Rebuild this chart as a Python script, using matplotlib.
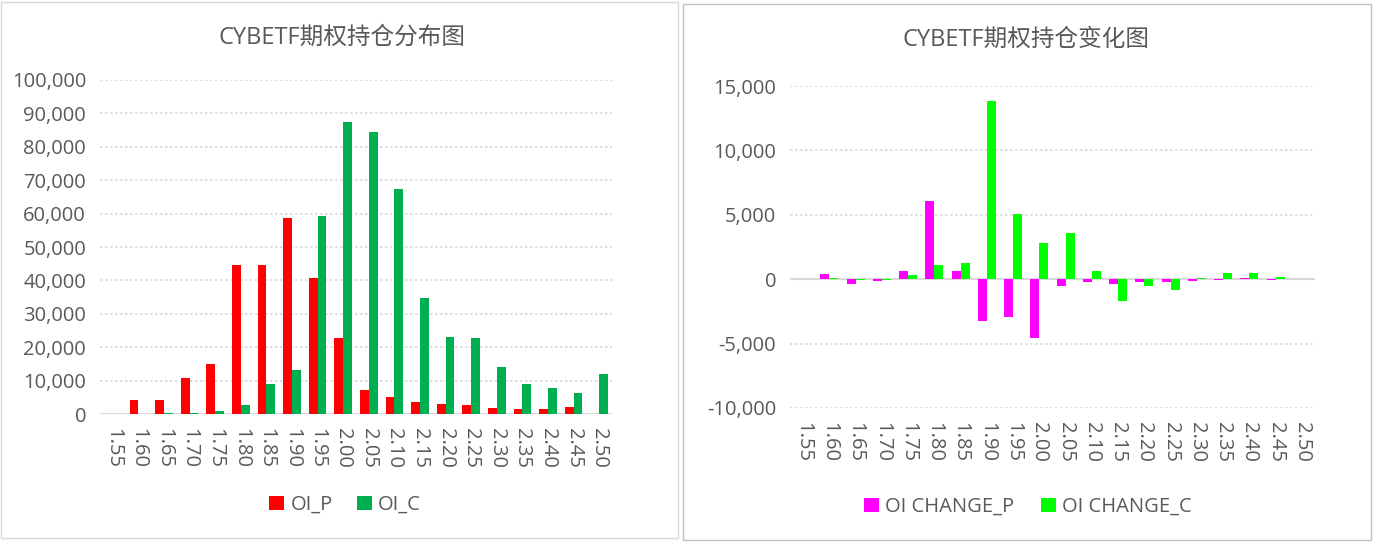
import matplotlib.pyplot as plt
import numpy as np
from matplotlib.patches import Rectangle
from matplotlib.ticker import FuncFormatter

plt.rcParams['font.family'] = ['Open Sans', 'Noto Sans CJK SC', 'DejaVu Sans']

strikes = ['1.55', '1.60', '1.65', '1.70', '1.75', '1.80', '1.85', '1.90', '1.95', '2.00',
           '2.05', '2.10', '2.15', '2.20', '2.25', '2.30', '2.35', '2.40', '2.45', '2.50']

# open interest
oi_p = [0, 4200, 4200, 10700, 14900, 44600, 44600, 58700, 40700, 22800,
        7300, 5000, 3700, 2900, 2800, 1900, 1600, 1400, 2200, 0]
oi_c = [0, 0, 400, 300, 1000, 2700, 8900, 13100, 59300, 87400,
        84400, 67400, 34700, 23000, 22800, 14200, 9000, 7700, 6400, 12100]

# change in open interest
chg_p = [0, 440, -340, -150, 600, 6080, 670, -3280, -2970, -4550,
         -490, -180, -390, -180, -180, -150, -100, 100, -100, 0]
chg_c = [0, 100, -100, -100, 340, 1090, 1270, 13860, 5080, 2780,
         3600, 600, -1680, -520, -800, 100, 490, 470, 180, 0]

W, H = 1373, 542
fig = plt.figure(figsize=(W / 100, H / 100), dpi=100)
text_col = '#595959'
grid_col = '#D9D9D9'


def fx(px):
    return px / W


def fy(py):
    return 1 - py / H


# panel borders
fig.patches.append(Rectangle((fx(1), fy(538)), fx(677), 536 / H, transform=fig.transFigure,
                             fill=False, edgecolor='#D9D9D9', lw=1))
fig.patches.append(Rectangle((fx(683), fy(540)), fx(688), 536 / H, transform=fig.transFigure,
                             fill=False, edgecolor='#BFBFBF', lw=1))

fmt = FuncFormatter(lambda v, p: f'{v:,.0f}')


def style(ax, ymin, ymax, step):
    ax.set_ylim(ymin, ymax)
    ax.set_yticks(np.arange(ymin, ymax + 1, step))
    ax.yaxis.set_major_formatter(fmt)
    ax.set_xlim(-0.5, len(strikes) - 0.5)
    ax.set_xticks(range(len(strikes)))
    ax.set_xticklabels(strikes, rotation=-90)
    ax.tick_params(length=0, labelsize=14.5, colors=text_col)
    ax.tick_params(axis='x', pad=10)
    ax.tick_params(axis='y', pad=10)
    ax.grid(axis='y', color=grid_col, ls=(0, (1.5, 1.5)), lw=1.2)
    ax.set_axisbelow(True)
    for s in ax.spines.values():
        s.set_visible(False)
    ax.axhline(0, color=grid_col, lw=1.5, zorder=1)


x = np.arange(len(strikes))
bw = 0.34

ax1 = fig.add_axes([fx(100), fy(414), fx(512), 334 / H])
ax1.bar(x - bw / 2, oi_p, bw, color='#FF0000', label='OI_P', zorder=2)
ax1.bar(x + bw / 2, oi_c, bw, color='#00B050', label='OI_C', zorder=2)
style(ax1, 0, 100000, 10000)
fig.text(fx(342), fy(38), 'CYBETF期权持仓分布图', fontsize=17, color=text_col,
         ha='center', va='center')
ax1.legend(loc='center', bbox_to_anchor=(fx(345), fy(505)), bbox_transform=fig.transFigure,
           ncol=2, frameon=False, fontsize=14.5, labelcolor=text_col, handlelength=0.75,
           handleheight=0.75, handletextpad=0.3, columnspacing=1.2)

ax2 = fig.add_axes([fx(790), fy(408), fx(525), 322 / H])
ax2.bar(x - bw / 2, chg_p, bw, color='#FF00FF', label='OI CHANGE_P', zorder=2)
ax2.bar(x + bw / 2, chg_c, bw, color='#00FF00', label='OI CHANGE_C', zorder=2)
style(ax2, -10000, 15000, 5000)
fig.text(fx(1026), fy(40), 'CYBETF期权持仓变化图', fontsize=17, color=text_col,
         ha='center', va='center')
ax2.legend(loc='center', bbox_to_anchor=(fx(1028), fy(507)), bbox_transform=fig.transFigure,
           ncol=2, frameon=False, fontsize=14.5, labelcolor=text_col, handlelength=0.75,
           handleheight=0.75, handletextpad=0.3, columnspacing=1.3)

fig.savefig('out.png', dpi=100)
